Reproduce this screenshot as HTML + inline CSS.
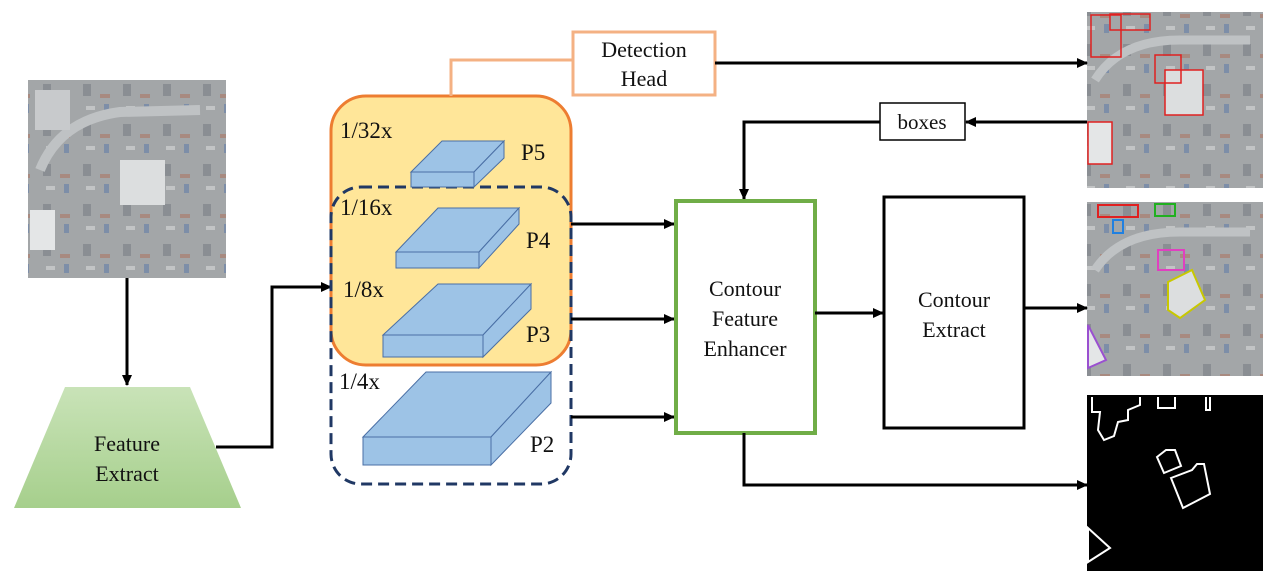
<!DOCTYPE html>
<html><head><meta charset="utf-8"><style>
html,body{margin:0;padding:0;background:#fff;}
svg{display:block;}
text{font-family:"Liberation Serif",serif;fill:#111;}
</style></head><body>
<svg width="1269" height="578" viewBox="0 0 1269 578" xmlns="http://www.w3.org/2000/svg">
<defs>
<marker id="ah" markerWidth="12" markerHeight="12" refX="10" refY="6" orient="auto" markerUnits="userSpaceOnUse">
<path d="M0,1 L11,6 L0,11 Z" fill="#000"/></marker>
<linearGradient id="g" x1="0" y1="0" x2="0" y2="1"><stop offset="0" stop-color="#c9e3b8"/><stop offset="1" stop-color="#a6cf8c"/></linearGradient>
<pattern id="aer" width="40" height="40" patternUnits="userSpaceOnUse">
<rect width="40" height="40" fill="#a3a6a8"/><rect x="3" y="4" width="8" height="12" fill="#8a8e93"/><rect x="20" y="14" width="10" height="4" fill="#a88a80"/><rect x="24" y="24" width="5" height="9" fill="#7d8ea8"/><rect x="6" y="26" width="9" height="4" fill="#c2c4c5"/></pattern>
</defs>

<!-- left aerial -->
<rect x="28" y="80" width="198" height="198" fill="url(#aer)"/>
<path d="M40,170 Q60,120 120,112 L200,110" stroke="#bfc2c4" stroke-width="10" fill="none"/>
<rect x="120" y="160" width="45" height="45" fill="#dcdedf"/>
<rect x="35" y="90" width="35" height="40" fill="#c8cacc"/>
<rect x="30" y="210" width="25" height="40" fill="#e4e6e7"/>

<!-- right images -->
<rect x="1087" y="12" width="176" height="176" fill="url(#aer)"/>
<path d="M1095,80 Q1120,40 1180,40 L1250,40" stroke="#bfc2c4" stroke-width="9" fill="none"/>
<rect x="1165" y="70" width="38" height="45" fill="#dcdedf" stroke="#e02020" stroke-width="1.5"/>
<rect x="1155" y="55" width="26" height="28" fill="none" stroke="#e02020" stroke-width="1.5"/>
<rect x="1091" y="15" width="30" height="42" fill="none" stroke="#e02020" stroke-width="1.5"/>
<rect x="1110" y="14" width="40" height="16" fill="none" stroke="#e02020" stroke-width="1.5"/>
<rect x="1088" y="122" width="24" height="42" fill="#e4e6e7" stroke="#e02020" stroke-width="1.5"/>

<rect x="1087" y="202" width="176" height="174" fill="url(#aer)"/>
<path d="M1095,270 Q1120,232 1180,232 L1250,232" stroke="#bfc2c4" stroke-width="9" fill="none"/>
<polygon points="1168,282 1192,270 1205,300 1180,318 1168,310" fill="#dcdedf" stroke="#c8c800" stroke-width="2"/>
<rect x="1158" y="250" width="26" height="20" fill="none" stroke="#e040c0" stroke-width="2"/>
<rect x="1098" y="205" width="40" height="12" fill="none" stroke="#e02020" stroke-width="2"/>
<rect x="1155" y="204" width="20" height="12" fill="none" stroke="#20b020" stroke-width="2"/>
<rect x="1113" y="220" width="10" height="13" fill="none" stroke="#2080e0" stroke-width="2"/>
<polygon points="1088,325 1106,360 1088,368" fill="#e4e6e7" stroke="#9a50d0" stroke-width="2"/>

<rect x="1087" y="395" width="176" height="176" fill="#000"/>
<g stroke="#fff" stroke-width="2" fill="none">
<path d="M1092,397 L1092,412 L1100,412 L1098,430 L1104,440 L1114,436 L1118,422 L1128,420 L1128,410 L1140,405 L1140,397"/>
<path d="M1158,397 L1158,408 L1175,408 L1175,397"/>
<path d="M1206,397 L1206,410 L1210,410 L1210,397"/>
<polygon points="1157,457 1166,450 1175,450 1181,466 1164,473"/>
<polygon points="1171,478 1192,470 1197,464 1204,464 1210,494 1183,508"/>
<polygon points="1088,528 1110,548 1088,562"/>
</g>

<!-- feature extract -->
<polygon points="65,387 190,387 241,508 14,508" fill="url(#g)"/>
<text x="127" y="451" font-size="22" text-anchor="middle">Feature</text>
<text x="127" y="481" font-size="22" text-anchor="middle">Extract</text>
<line x1="127" y1="278" x2="127" y2="385" stroke="#000" stroke-width="3" marker-end="url(#ah)"/>
<polyline points="216,447 272,447 272,287 331,287" stroke="#000" stroke-width="3" fill="none" marker-end="url(#ah)"/>

<!-- pyramid -->
<rect x="331" y="96" width="240" height="269" rx="35" fill="#ffe699" stroke="#ed7d31" stroke-width="3"/>
<rect x="331" y="187" width="240" height="297" rx="30" fill="none" stroke="#203864" stroke-width="3" stroke-dasharray="11,6"/>
<polyline points="451,96 451,60 573,60" stroke="#f4b183" stroke-width="3" fill="none"/>

<g fill="#9dc3e6" stroke="#4a6fa5" stroke-width="1">
<polygon points="411,172 442,141 504,141 474,172"/><polygon points="474,172 504,141 504,158 474,187"/><rect x="411" y="172" width="63" height="15"/>
<polygon points="396,252 438,208 519,208 479,252"/><polygon points="479,252 519,208 519,224 479,268"/><rect x="396" y="252" width="83" height="16"/>
<polygon points="383,335 438,284 531,284 483,335"/><polygon points="483,335 531,284 531,309 483,357"/><rect x="383" y="335" width="100" height="22"/>
<polygon points="363,437 426,372 551,372 491,437"/><polygon points="491,437 551,372 551,403 491,465"/><rect x="363" y="437" width="128" height="28"/>
</g>
<g font-size="23">
<text x="340" y="138">1/32x</text><text x="521" y="160">P5</text>
<text x="340" y="215">1/16x</text><text x="526" y="248">P4</text>
<text x="343" y="297">1/8x</text><text x="526" y="342">P3</text>
<text x="339" y="389">1/4x</text><text x="530" y="452">P2</text>
</g>

<!-- detection head -->
<rect x="573" y="32" width="142" height="63" fill="#fff" stroke="#f4b183" stroke-width="3"/>
<text x="644" y="57" font-size="22" text-anchor="middle">Detection</text>
<text x="644" y="86" font-size="22" text-anchor="middle">Head</text>
<line x1="715" y1="63" x2="1087" y2="63" stroke="#000" stroke-width="3" marker-end="url(#ah)"/>

<!-- boxes -->
<rect x="880" y="103" width="85" height="37" fill="#fff" stroke="#000" stroke-width="1.5"/>
<text x="922" y="129" font-size="21" text-anchor="middle">boxes</text>
<line x1="1087" y1="122" x2="966" y2="122" stroke="#000" stroke-width="3" marker-end="url(#ah)"/>
<polyline points="880,122 744,122 744,199" stroke="#000" stroke-width="3" fill="none" marker-end="url(#ah)"/>

<!-- arrows to CFE -->
<line x1="571" y1="224" x2="674" y2="224" stroke="#000" stroke-width="3" marker-end="url(#ah)"/>
<line x1="571" y1="319" x2="674" y2="319" stroke="#000" stroke-width="3" marker-end="url(#ah)"/>
<line x1="571" y1="417" x2="674" y2="417" stroke="#000" stroke-width="3" marker-end="url(#ah)"/>

<rect x="676" y="201" width="139" height="232" fill="#fff" stroke="#70ad47" stroke-width="4"/>
<text x="745" y="296" font-size="22" text-anchor="middle">Contour</text>
<text x="745" y="326" font-size="22" text-anchor="middle">Feature</text>
<text x="745" y="356" font-size="22" text-anchor="middle">Enhancer</text>
<line x1="815" y1="313" x2="883" y2="313" stroke="#000" stroke-width="3" marker-end="url(#ah)"/>

<rect x="884" y="197" width="140" height="231" fill="#fff" stroke="#000" stroke-width="3"/>
<text x="954" y="307" font-size="22" text-anchor="middle">Contour</text>
<text x="954" y="337" font-size="22" text-anchor="middle">Extract</text>
<line x1="1024" y1="308" x2="1087" y2="308" stroke="#000" stroke-width="3" marker-end="url(#ah)"/>

<polyline points="744,433 744,485 1087,485" stroke="#000" stroke-width="3" fill="none" marker-end="url(#ah)"/>
</svg>
</body></html>
